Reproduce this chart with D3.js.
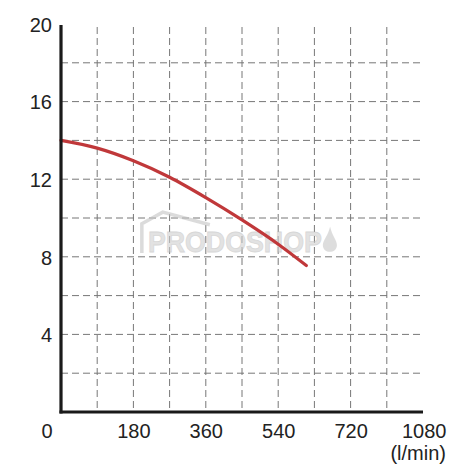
<!DOCTYPE html>
<html><head><meta charset="utf-8">
<script src="https://cdn.jsdelivr.net/npm/d3@7"></script>
<style>body{margin:0;background:#fff}</style>
</head><body><svg id="c" width="475" height="475"></svg>
<script>
const flow = [0, 90, 180, 270, 360, 450, 540, 610];
const head = [14.0, 13.6, 12.95, 12.1, 11.05, 9.9, 8.65, 7.55];
const xTickValues = [0, 180, 360, 540, 720, 900];
const xTickLabels = ["0", "180", "360", "540", "720", "1080"];
const yTickValues = [4, 8, 12, 16, 20];
const xGrid = [90, 180, 270, 360, 450, 540, 630, 720, 810];
const yGrid = [2, 4, 6, 8, 10, 12, 14, 16, 18];
const unitLabel = "(l/min)";
const watermark = "PRODOSHOP";

const svg = d3.select("#c");
const x = d3.scaleLinear().domain([0, 900]).range([61, 423]);
const y = d3.scaleLinear().domain([0, 20]).range([412, 24]);
const font = "'Liberation Sans', Arial, sans-serif";

// grid
const g = svg.append("g").attr("stroke", "#777").attr("stroke-width", 1).attr("stroke-dasharray", "7,4");
g.selectAll("line.v").data(xGrid).join("line").attr("class", "v")
  .attr("x1", d => x(d)).attr("x2", d => x(d)).attr("y1", y(20) + 3).attr("y2", y(0));
g.selectAll("line.h").data(yGrid).join("line").attr("class", "h")
  .attr("x1", x(0)).attr("x2", x(900) + 1).attr("y1", d => y(d)).attr("y2", d => y(d));

// watermark
const wm = svg.append("g").attr("opacity", 0.6);
wm.append("path")
  .attr("d", `M${x(201)},${y(8.2)} L${x(201)},${y(9.7)} L${x(253)},${y(10.3)} L${x(370)},${y(9.65)}`)
  .attr("fill", "none").attr("stroke", "#c4c4c4").attr("stroke-width", 3.5);
wm.append("text").attr("x", x(216)).attr("y", y(8.25))
  .attr("font-family", font).attr("font-size", 30).attr("font-weight", "bold")
  .attr("fill", "#d0d0d0").attr("stroke", "#bdbdbd").attr("stroke-width", 0.8)
  .attr("textLength", 174).attr("lengthAdjust", "spacingAndGlyphs")
  .text(watermark);
wm.append("path")
  .attr("d", `M${x(669)},${y(9.55)} C${x(664)},${y(9.1)} ${x(651)},${y(8.85)} ${x(651)},${y(8.6)} C${x(651)},${y(8.15)} ${x(686)},${y(8.15)} ${x(686)},${y(8.6)} C${x(686)},${y(8.85)} ${x(674)},${y(9.1)} ${x(669)},${y(9.55)} Z`)
  .attr("fill", "#c8c8c8");

// curve
const pts = flow.map((f, i) => [f, head[i]]);
svg.append("path").datum(pts)
  .attr("d", d3.line().x(d => x(d[0])).y(d => y(d[1])).curve(d3.curveMonotoneX))
  .attr("fill", "none").attr("stroke", "#c0383a").attr("stroke-width", 3.2).attr("stroke-linecap", "round");

// axes lines
svg.append("line").attr("x1", x(0)).attr("x2", x(0)).attr("y1", y(20) + 1).attr("y2", y(0) + 1.5)
  .attr("stroke", "#1a1a1a").attr("stroke-width", 3.2);
svg.append("line").attr("x1", x(0) - 1.5).attr("x2", x(900)).attr("y1", y(0)).attr("y2", y(0))
  .attr("stroke", "#1a1a1a").attr("stroke-width", 3.2);

// y labels
const ya = svg.append("g").attr("transform", `translate(${x(0) - 9},0)`)
  .call(d3.axisLeft(y).tickValues(yTickValues).tickSize(0).tickPadding(0));
ya.select(".domain").remove();
ya.selectAll("text").attr("font-family", font).attr("font-size", 20).attr("fill", "#222").attr("dy", "0.36em");

// x labels
const xa = svg.append("g").attr("transform", `translate(0,${y(0) + 10})`)
  .call(d3.axisBottom(x).tickValues(xTickValues).tickSize(0).tickPadding(0)
    .tickFormat((d, i) => xTickLabels[i]));
xa.select(".domain").remove();
xa.selectAll("text").attr("font-family", font).attr("font-size", 20).attr("fill", "#222").attr("dy", "0.8em");
xa.selectAll(".tick").filter(d => d === 0).select("text").attr("text-anchor", "end").attr("x", -9);
xa.selectAll(".tick").filter(d => d === 900).select("text").attr("text-anchor", "end").attr("x", 23);

svg.append("text").attr("x", x(900) + 23).attr("y", 460).attr("text-anchor", "end")
  .attr("font-family", font).attr("font-size", 20).attr("fill", "#222").text(unitLabel);
</script></body></html>
